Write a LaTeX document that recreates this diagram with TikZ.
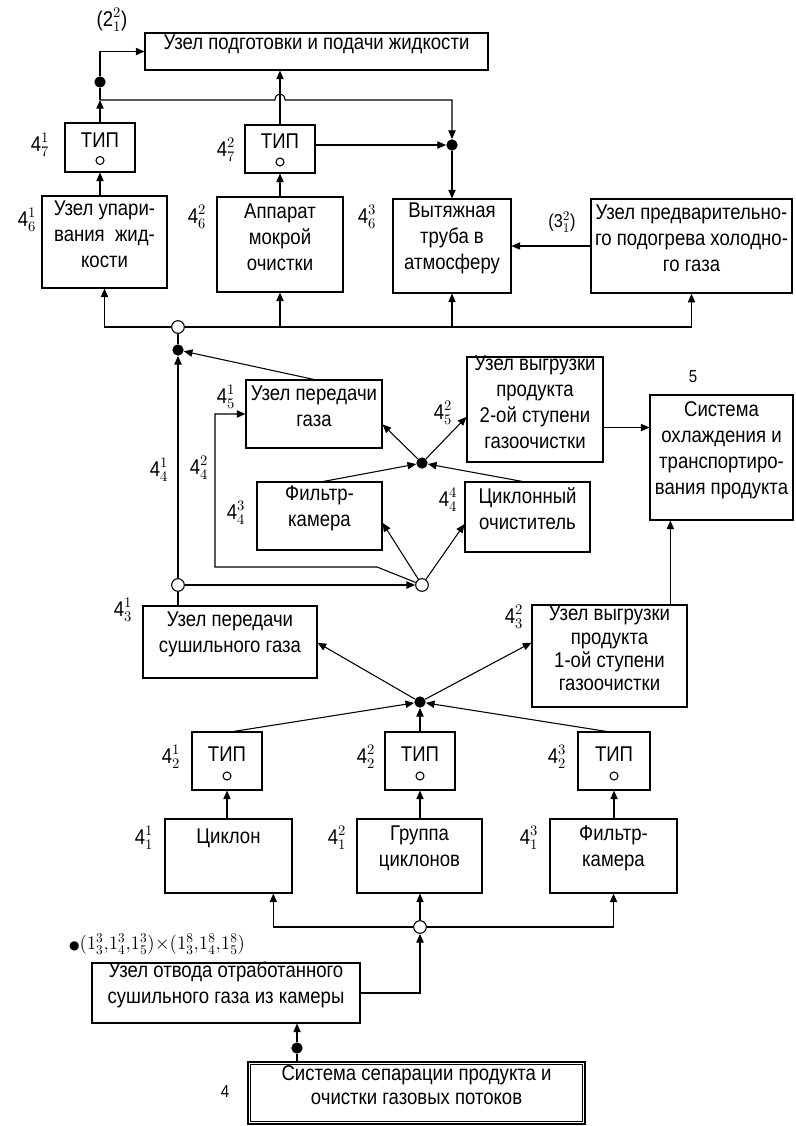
\documentclass[tikz,border=0pt]{standalone}
\usepackage{fontspec}
\setmainfont[FakeStretch=0.87]{Liberation Sans}
\newfontfamily\dejavu{DejaVu Sans}
\usetikzlibrary{arrows.meta,fit,calc}
\DeclareMathSizes{16}{16}{11}{8}
\DeclareMathSizes{15}{15}{10}{7}
\DeclareMathSizes{14}{14}{10}{7}
\newcommand\ix[2]{4$^{#1}_{#2}$}
\begin{document}
\begin{tikzpicture}[x=0.75pt,y=-0.75pt,
  every node/.style={font=\fontsize{16}{19.5}\selectfont},
  box/.style={draw, line width=0.8pt, inner sep=0pt, align=center},
  tipbox/.style={box, text height=12pt, text depth=13pt},
  arr/.style={line width=0.8pt,-{Triangle[length=6.5pt,width=5.5pt]}},
  ln/.style={line width=0.8pt},
  fdot/.style={circle, fill, inner sep=0pt, minimum size=8.5pt},
  odot/.style={circle, draw, line width=0.8pt, fill=white, inner sep=0pt, minimum size=9.5pt},
  lab/.style={inner sep=0pt}
]
\useasboundingbox[fill=white] (0,0) rectangle (795,1126);

% ---------- top level ----------
\node[box, fit={(145,33) (488,70)}] (top) {Узел подготовки и подачи жидкости};
\node[lab] at (112,20) {(2$^{2}_{1}$)};

\node[tipbox, fit={(65,123) (135,172)}] (tip71) {ТИП};
\node[lab] at (40,145) {\ix{1}{7}};
\node[tipbox, fit={(245,125) (315,173)}] (tip72) {ТИП};
\node[lab] at (226,150) {\ix{2}{7}};
\draw[ln] ($(tip71.center)+(0,13)$) circle (3pt);
\draw[ln] ($(tip72.center)+(0,13)$) circle (3pt);

\node[box, fit={(42,196) (167,288)}] (b61) {Узел упари-\\вания \ жид-\\кости};
\node[lab] at (27,220) {\ix{1}{6}};
\node[box, fit={(217,197) (343,292)}] (b62) {Аппарат\\мокрой\\очистки};
\node[lab] at (197,217) {\ix{2}{6}};
\node[box, fit={(393,199) (511,293)}] (b63) {Вытяжная\\труба в\\атмосферу};
\node[lab] at (367,217) {\ix{3}{6}};
\node[box, line width=1.2pt, fit={(591,199) (792,293)}] (bpre) {Узел предварительно-\\го подогрева холодно-\\го газа};
\node[lab, font=\fontsize{14}{16}\selectfont] at (562,222) {(3$^{2}_{1}$)};

\node[fdot] (dA) at (452,145) {};
\coordinate (J1) at (100,100);
\node[fdot] (dB) at (100,82) {};
\coordinate (H0) at (tip72.north |- J1);

\draw[arr] (b61.north -| tip71.south) -- (tip71.south);
\draw[arr] (tip71.north) -- (J1);
\draw[arr] (J1) -- (dB) -- (dB |- top.west) -- (top.west);
\draw[arr] (J1) -- ($(H0)+(-5,0)$) .. controls ($(H0)+(-5,-8)$) and ($(H0)+(5,-8)$) .. ($(H0)+(5,0)$) -- (dA |- J1) -- (dA);
\draw[arr] (tip72.north) -- (tip72.north |- top.south);
\draw[arr] (tip72.east |- dA) -- (dA);
\draw[arr] (b62.north) -- (b62.north |- tip72.south);
\draw[arr] (dA) -- (b63.north);
\draw[arr] (bpre.west) -- (b63.east);

% ---------- bus 1 ----------
\node[odot] (B1) at (178,327) {};
\draw[arr] (B1) -| (b61.south);
\draw[arr] (B1) -| (bpre.south);
\draw[arr] (b62.south |- B1) -- (b62.south);
\draw[arr] (b63.south |- B1) -- (b63.south);

\node[fdot] (dC) at (178,350) {};
\draw[ln] (dC) -- (B1);

% ---------- middle ----------
\node[box, fit={(246,380) (382,448)}] (b51) {Узел передачи\\газа};
\node[lab] at (226,397) {\ix{1}{5}};
\node[box, fit={(467,357) (603,462)}] (b52) {Узел выгрузки\\продукта\\2-ой ступени\\газоочистки};
\node[lab] at (443,413) {\ix{2}{5}};
\node[box, fit={(650,395) (793,520)}] (b5) {Система\\охлаждения и\\транспортиро-\\вания продукта};
\node[lab, font=\fontsize{13}{15}\selectfont] at (693,377) {5};
\node[box, fit={(257,482) (382,550)}] (b43) {Фильтр-\\камера};
\node[lab] at (236,513) {\ix{3}{4}};
\node[box, fit={(465,482) (590,552)}] (b44) {Циклонный\\очиститель};
\node[lab] at (448,500) {\ix{4}{4}};
\node[lab] at (159,470) {\ix{1}{4}};
\node[lab] at (199,468) {\ix{2}{4}};

\node[fdot] (dD) at (422,463) {};
\node[odot] (F) at (178,585) {};
\node[odot] (E) at (422,585) {};
\coordinate (k1) at (377,567);
\coordinate (k2) at (215,567);

\draw[arr] (F) -- (dC);
\draw[arr] (b51.north) -- (dC);
\draw[arr] (F) -- (E);
\draw[arr] (E) -- (k1) -- (k2) -- (k2 |- b51.west) -- (b51.west);
\draw[arr] (E) -- ($(b43.south east)!0.4!(b43.north east)$);
\draw[arr] (E) -- ($(b44.south west)!0.4!(b44.north west)$);
\draw[arr] ($(b43.north west)!0.53!(b43.north east)$) -- (dD);
\draw[arr] ($(b44.north west)!0.46!(b44.north east)$) -- (dD);
\draw[arr] (dD) -- ($(b51.south east)!0.35!(b51.north east)$);
\draw[arr] (dD) -- ($(b52.south west)!0.43!(b52.north west)$);
\coordinate (p52) at ($(b52.south east)!0.33!(b52.north east)$);
\draw[arr] (p52) -- (p52 -| b5.west);

% ---------- lower ----------
\node[box, fit={(143,606) (317,678)}] (b31) {Узел передачи\\сушильного газа};
\node[lab] at (123,610) {\ix{1}{3}};
\node[box, font=\fontsize{16}{17.5}\selectfont, fit={(532,605) (687,707)}] (b32) {Узел выгрузки\\продукта\\1-ой ступени\\газоочистки};
\node[lab] at (514,617) {\ix{2}{3}};
\draw[ln] (F |- b31.north) -- (F);
\coordinate (p32) at ($(b32.north west)!0.89!(b32.north east)$);
\draw[arr] (p32) -- (p32 |- b5.south);

\node[fdot] (dG) at (420,702) {};
\draw[arr] (dG) -- ($(b31.south east)!0.49!(b31.north east)$);
\draw[arr] (dG) -- ($(b32.north west)!0.37!(b32.south west)$);

\node[tipbox, fit={(192,732) (262,790)}] (tip21) {ТИП};
\node[lab] at (171,757) {\ix{1}{2}};
\node[tipbox, fit={(385,732) (455,790)}] (tip22) {ТИП};
\node[lab] at (366,757) {\ix{2}{2}};
\node[tipbox, fit={(578,732) (650,790)}] (tip23) {ТИП};
\node[lab] at (557,757) {\ix{3}{2}};
\draw[ln] ($(tip21.center)+(0,15)$) circle (3pt);
\draw[ln] ($(tip22.center)+(0,15)$) circle (3pt);
\draw[ln] ($(tip23.center)+(0,15)$) circle (3pt);

\draw[arr] ($(tip21.north west)!0.59!(tip21.north east)$) -- (dG);
\draw[arr] (tip22.north) -- (dG);
\draw[arr] ($(tip23.north west)!0.4!(tip23.north east)$) -- (dG);

\node[box, fit={(165,819) (292,893)}] (b11) {Циклон\\\mbox{}};
\node[lab] at (144,838) {\ix{1}{1}};
\node[box, fit={(357,819) (482,893)}] (b12) {Группа\\циклонов};
\node[lab] at (337,838) {\ix{2}{1}};
\node[box, fit={(550,819) (677,893)}] (b13) {Фильтр-\\камера};
\node[lab] at (529,838) {\ix{3}{1}};

\draw[arr] (b11.north -| tip21.south) -- (tip21.south);
\draw[arr] (b12.north -| tip22.south) -- (tip22.south);
\draw[arr] (b13.north -| tip23.south) -- (tip23.south);

\node[odot] (H) at (420,927) {};
\coordinate (q11) at ($(b11.south west)!0.85!(b11.south east)$);
\draw[arr] (H) -| (q11);
\draw[arr] (H) -| (b13.south);
\draw[arr] (H) -- (H |- b12.south);

\node[box, fit={(92,963) (360,1023)}] (b0) {Узел отвода отработанного\\сушильного газа из камеры};
\node[lab, font=\fontsize{15}{17}\selectfont] at (157,944) {{\dejavu\fontsize{9}{9}\selectfont ●}$(1^{3}_{3}{,}1^{3}_{4}{,}1^{3}_{5}){\times}(1^{8}_{3}{,}1^{8}_{4}{,}1^{8}_{5})$};
\draw[arr] (b0.east) -| (H);

\node[box, line width=2pt, font=\fontsize{16}{18}\selectfont, fit={(248,1062) (585,1124)}] (bsys) {Система сепарации продукта и\\очистки газовых потоков};
\draw[ln] ($(bsys.north west)+(4,4)$) rectangle ($(bsys.south east)+(-4,-4)$);
\node[lab, font=\fontsize{13}{15}\selectfont] at (225,1092) {4};

\node[fdot] (dI) at (297,1048) {};
\draw[arr] (dI) -- (dI |- b0.south);
\draw[ln] (dI |- bsys.north) -- (dI);
\end{tikzpicture}
\end{document}
